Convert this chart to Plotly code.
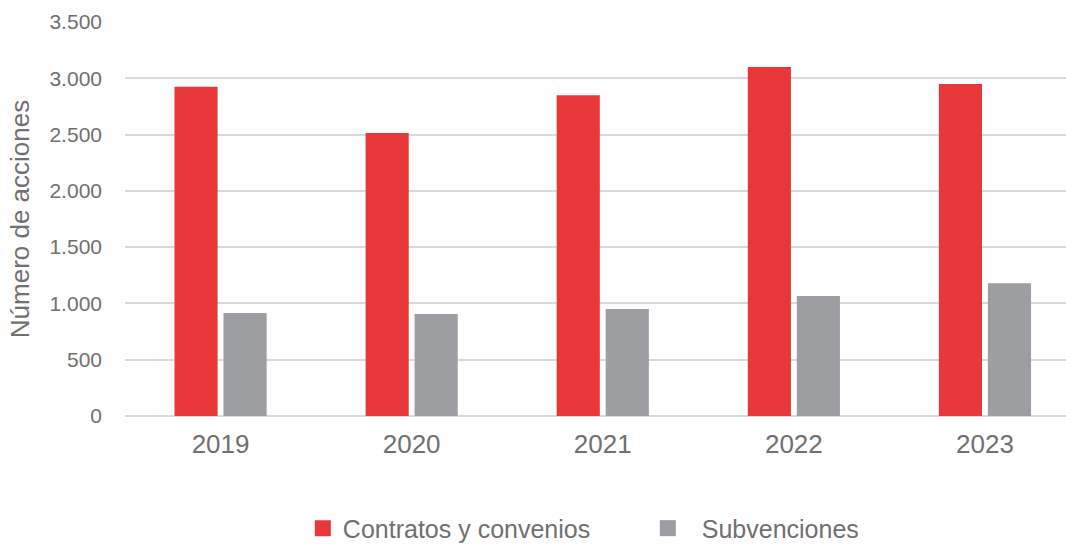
import plotly.graph_objects as go

years = ["2019", "2020", "2021", "2022", "2023"]
contratos = [2925, 2515, 2850, 3100, 2950]
subvenciones = [915, 905, 950, 1065, 1180]
y_ticks = [0, 500, 1000, 1500, 2000, 2500, 3000, 3500]

RED = "#E8383A"
GREY = "#9D9EA2"
TXT = "#707070"
FONT = "Arial, Liberation Sans, sans-serif"

fig = go.Figure()
fig.add_trace(go.Bar(x=years, y=contratos, name="Contratos y convenios",
                     marker=dict(color=RED, line=dict(width=0)), showlegend=False))
fig.add_trace(go.Bar(x=years, y=subvenciones, name="Subvenciones",
                     marker=dict(color=GREY, line=dict(width=0)), showlegend=False))
# legend entries (square markers)
fig.add_trace(go.Scatter(x=[None], y=[None], mode="markers", name="Contratos y convenios",
                         marker=dict(symbol="square", size=16, color=RED)))
fig.add_trace(go.Scatter(x=[None], y=[None], mode="markers",
                         name="\u00a0\u00a0Subvenciones",
                         marker=dict(symbol="square", size=16, color=GREY)))

fig.update_layout(
    width=1066, height=547,
    margin=dict(l=125, r=0, t=22, b=131),
    paper_bgcolor="white", plot_bgcolor="white",
    barmode="group", bargap=0.487, bargroupgap=0.12,
    separators=",.",
    font=dict(family=FONT, color=TXT, size=20),
    showlegend=True,
    legend=dict(orientation="h", x=0.189, xanchor="left", yref="container",
                y=0.034, yanchor="middle",
                font=dict(size=25, color=TXT), entrywidth=300, itemwidth=30,
                traceorder="normal"),
    xaxis=dict(range=[-0.5, 4.424], showgrid=False, showline=False, zeroline=False,
               tickfont=dict(size=26, color=TXT), ticklabelstandoff=10,
               automargin=False, fixedrange=True),
    yaxis=dict(range=[0, 3500], tickvals=y_ticks, tickformat=",d",
               showgrid=True, gridcolor="#D9D9D9", gridwidth=1.5,
               zeroline=True, zerolinecolor="#D9D9D9", zerolinewidth=1.5,
               showline=False, tickfont=dict(size=21, color=TXT),
               ticklabelstandoff=22, automargin=False, fixedrange=True,
               title=dict(text="Número de acciones", font=dict(size=26, color=TXT),
                          standoff=12)),
)

fig.write_html(
    "out.html",
    config={"displayModeBar": False},
    post_script="document.body.style.margin='0';document.body.style.overflow='hidden';",
)
